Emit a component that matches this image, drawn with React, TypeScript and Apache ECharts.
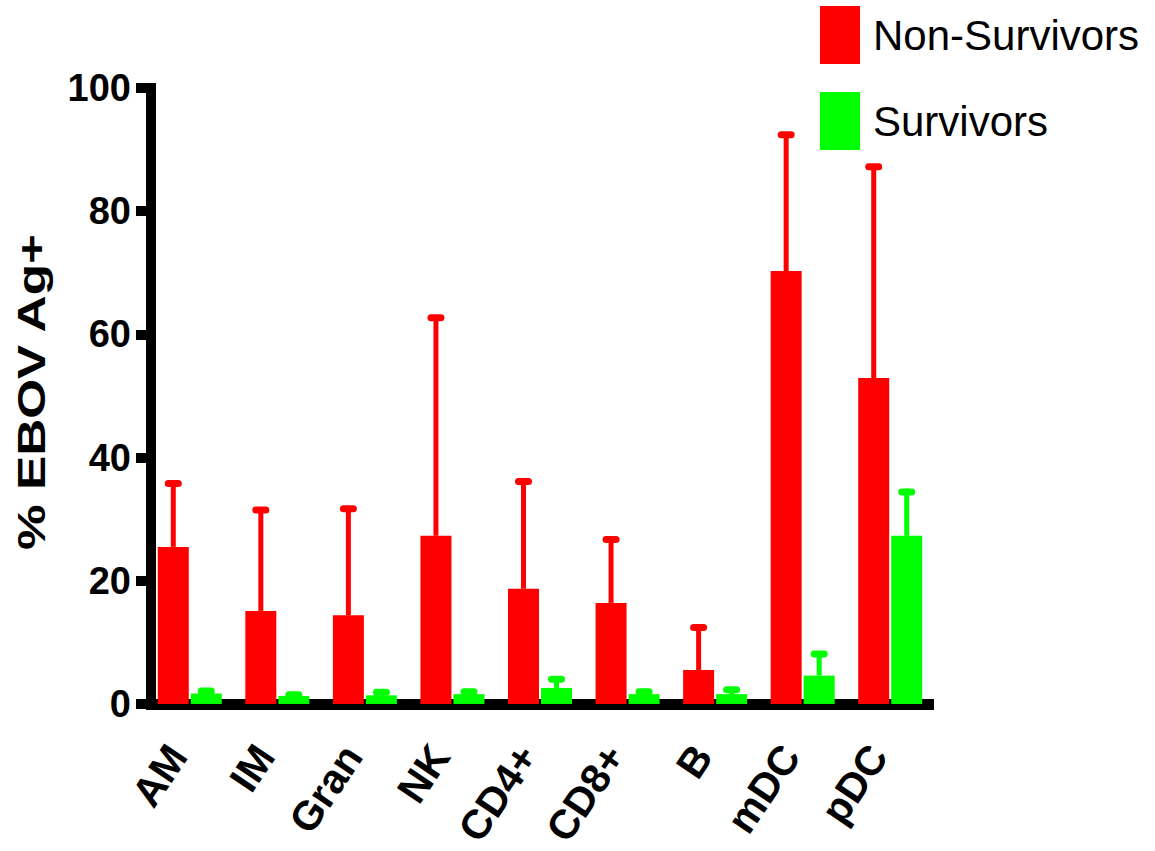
import React, { useEffect, useRef } from "react";
import * as echarts from "echarts";

// Cell populations
const categories = ["AM", "IM", "Gran", "NK", "CD4+", "CD8+", "B", "mDC", "pDC"];

// Mean % EBOV antigen-positive cells
const nonSurvivors = [25.5, 15.1, 14.4, 27.3, 18.7, 16.4, 5.5, 70.3, 52.9];
const survivors = [1.7, 1.3, 1.4, 1.6, 2.6, 1.6, 1.6, 4.6, 27.3];

// Upper error (SEM) added to each mean
const nonSurvivorsErr = [10.3, 16.4, 17.3, 35.4, 17.4, 10.3, 6.9, 22.1, 34.3];
const survivorsErr = [0.4, 0.2, 0.5, 0.4, 1.4, 0.4, 0.7, 3.5, 7.1];

const yTicks = [0, 20, 40, 60, 80, 100];

const RED = "#FF0000";
const GREEN = "#00FF00";
const FONT = "'Liberation Sans', Arial, Helvetica, sans-serif";
const BAR_W = 31;
const BAR_GAP = 2;

function errorSeries(name: string, means: number[], errs: number[], color: string, offset: number) {
  return {
    type: "custom",
    name,
    z: 5,
    silent: true,
    encode: { x: 0, y: 2 },
    data: categories.map((_, i) => [i, means[i], means[i] + errs[i]]),
    renderItem: (_params: any, api: any) => {
      const base = api.coord([api.value(0), api.value(1)]);
      const tip = api.coord([api.value(0), api.value(2)]);
      const x = base[0] + offset;
      return {
        type: "group",
        children: [
          {
            type: "line",
            shape: { x1: x, y1: base[1], x2: x, y2: tip[1] },
            style: { stroke: color, lineWidth: 5 },
          },
          {
            type: "line",
            shape: { x1: x - 5, y1: tip[1], x2: x + 5, y2: tip[1] },
            style: { stroke: color, lineWidth: 7, lineCap: "round" },
          },
        ],
      };
    },
  };
}

export default function App() {
  const ref = useRef<HTMLDivElement>(null);

  useEffect(() => {
    if (!ref.current) return;
    const chart = echarts.init(ref.current, undefined, { renderer: "svg" });
    const half = (BAR_W + BAR_GAP) / 2;

    chart.setOption({
      animation: false,
      backgroundColor: "#ffffff",
      grid: { left: 146, right: 221, top: 88, bottom: 147, containLabel: false },
      legend: {
        orient: "vertical",
        left: 820,
        top: 6,
        padding: 0,
        itemWidth: 40,
        itemHeight: 58,
        itemGap: 28,
        icon: "rect",
        data: ["Non-Survivors", "Survivors"],
        textStyle: { fontSize: 42, color: "#000", fontFamily: FONT, padding: [0, 0, 0, 8] },
      },
      graphic: [
        {
          type: "text",
          x: 32,
          y: 392,
          rotation: Math.PI / 2,
          scaleX: 1.35,
          style: {
            text: "% EBOV Ag+",
            font: `bold 38px ${FONT}`,
            fill: "#000",
            align: "center",
            verticalAlign: "middle",
          },
        },
      ],
      xAxis: {
        type: "category",
        data: categories,
        axisLine: { lineStyle: { color: "#000", width: 11, cap: "butt" } },
        axisTick: { alignWithLabel: true, length: 18, lineStyle: { color: "#000", width: 9 } },
        axisLabel: {
          rotate: 56,
          margin: 27,
          padding: [0, 22, 0, 0],
          interval: 0,
          color: "#000",
          fontSize: 41,
          fontWeight: "bold",
          fontFamily: FONT,
        },
      },
      yAxis: {
        type: "value",
        min: 0,
        max: 100,
        interval: 20,
        offset: -5,
        splitLine: { show: false },
        axisLine: { show: true, lineStyle: { color: "#000", width: 10, cap: "square" } },
        axisTick: { show: true, length: 15, lineStyle: { color: "#000", width: 10 } },
        axisLabel: {
          margin: 20,
          color: "#000",
          fontSize: 38,
          fontWeight: "bold",
          fontFamily: FONT,
          formatter: (v: number) => (yTicks.includes(v) ? String(v) : ""),
        },
      },
      series: [
        {
          type: "bar",
          name: "Non-Survivors",
          data: nonSurvivors,
          barWidth: BAR_W,
          barGap: `${(BAR_GAP / BAR_W) * 100}%`,
          itemStyle: { color: RED },
          z: 2,
        },
        {
          type: "bar",
          name: "Survivors",
          data: survivors,
          barWidth: BAR_W,
          itemStyle: { color: GREEN },
          z: 2,
        },
        errorSeries("Non-Survivors SEM", nonSurvivors, nonSurvivorsErr, RED, -half),
        errorSeries("Survivors SEM", survivors, survivorsErr, GREEN, half),
      ],
    });

    return () => chart.dispose();
  }, []);

  return (
    <div
      ref={ref}
      style={{ position: "fixed", left: 0, top: 0, width: 1155, height: 851, background: "#fff" }}
    />
  );
}
